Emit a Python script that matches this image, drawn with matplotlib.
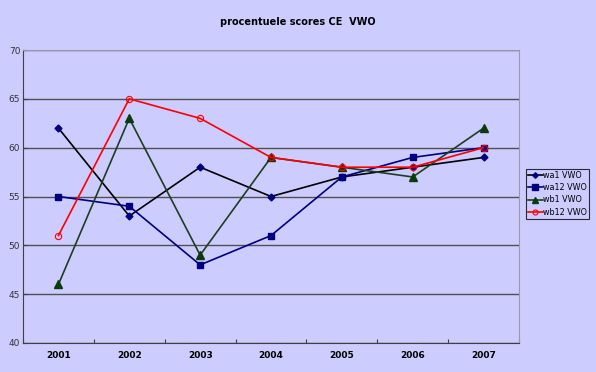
import matplotlib.pyplot as plt

jaren = ["2001", "2002", "2003", "2004", "2005", "2006", "2007"]
wa1 = [62, 53, 58, 55, 57, 58, 59]
wa12 = [55, 54, 48, 51, 57, 59, 60]
wb1 = [46, 63, 49, 59, 58, 57, 62]
wb12 = [51, 65, 63, 59, 58, 58, 60]

bg = "#ccccff"
fig = plt.figure(figsize=(5.96, 3.72), dpi=100, facecolor=bg)
ax = fig.add_axes([23 / 596, 1 - 343 / 372, (519 - 23) / 596, (343 - 50) / 372])
ax.set_facecolor(bg)

x = list(range(len(jaren)))
ax.plot(x, wa1, color="black", lw=1.2, marker="D", ms=3.5, mfc="#000080", mec="#000080", label="wa1 VWO", zorder=3)
ax.plot(x, wa12, color="#000080", lw=1.2, marker="s", ms=5, mfc="#000080", mec="#000080", label="wa12 VWO", zorder=3)
ax.plot(x, wb1, color="#1f3d1f", lw=1.2, marker="^", ms=6, mfc="#0b3b0b", mec="#0b3b0b", label="wb1 VWO", zorder=3)
ax.plot(x, wb12, color="#ff0000", lw=1.2, marker="o", ms=4.5, mfc="none", mec="#ff0000", mew=0.8, label="wb12 VWO", zorder=4)

ax.set_xlim(-0.5, len(jaren) - 0.5)
ax.set_ylim(40, 70)
ax.set_yticks(range(40, 71, 5))
ax.yaxis.grid(True, color="#505050", lw=1.0)
ax.set_axisbelow(True)

ax.set_xticks([i + 0.5 for i in range(-1, len(jaren))])
ax.set_xticklabels([])
ax.set_xticks(x, minor=True)
ax.set_xticklabels(jaren, minor=True, fontsize=6.5, fontweight="bold")
ax.tick_params(axis="x", which="minor", length=0, pad=6)
ax.tick_params(axis="x", which="major", length=3, direction="in", color="#404040")
ax.tick_params(axis="y", length=3, direction="in", color="#404040", labelsize=6.5, labelcolor="#333333", pad=2)

for s in ["left", "bottom"]:
    ax.spines[s].set_color("#404040")
for s in ["top", "right"]:
    ax.spines[s].set_color("#9999aa")
    ax.spines[s].set_linewidth(0.8)

fig.text(0.5, 1 - 22 / 372, "procentuele scores CE  VWO", ha="center", va="center",
         fontsize=7, fontweight="bold")

leg = fig.legend(loc="upper left", bbox_to_anchor=(526 / 596, 1 - 169 / 372), fontsize=5.8,
                 frameon=True, fancybox=False, edgecolor="black", facecolor=bg,
                 handlelength=1.8, handletextpad=0.1, borderpad=0.25, labelspacing=0.4,
                 borderaxespad=0, markerscale=0.8)
leg.get_frame().set_linewidth(0.8)

fig.savefig("out.png", dpi=100, facecolor=bg)
